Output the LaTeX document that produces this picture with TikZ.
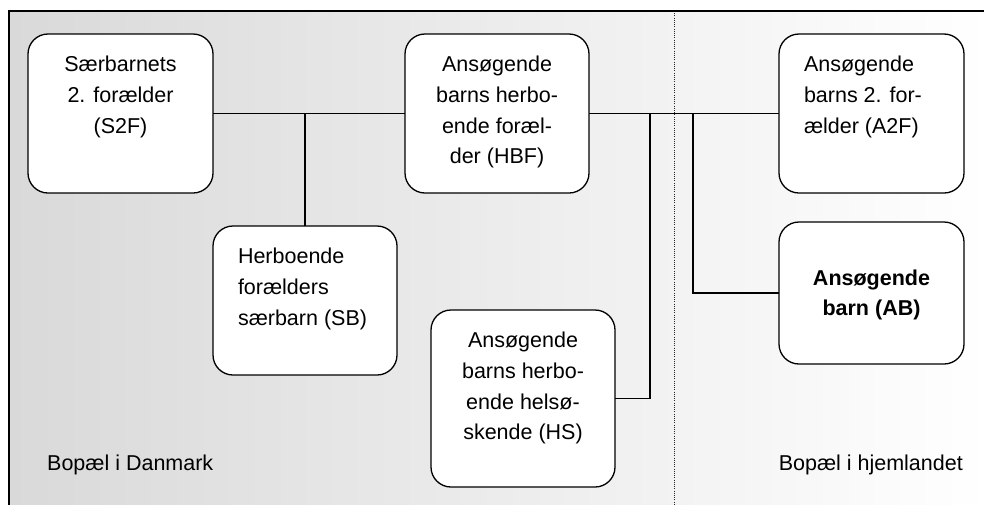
\documentclass[tikz,border=0pt]{standalone}
\usepackage{fontspec}
\setmainfont{Liberation Sans}
\definecolor{bgdark}{HTML}{D9D9D9}
\definecolor{bglight}{HTML}{FFFFFF}
\newcommand{\topbox}[4]{\begin{minipage}[c][#2][t]{#1}\vspace*{22pt}#3#4\end{minipage}}
\newcommand{\midbox}[4]{\begin{minipage}[c][#2][c]{#1}#3#4\end{minipage}}
\begin{document}
\begin{tikzpicture}[x=1pt,y=-1pt,
  box/.style={draw=black, line width=1.3pt, rounded corners=20pt, fill=white, inner sep=0pt, outer sep=0pt,
    font=\fontsize{21.5}{30.8}\selectfont},
  conn/.style={draw=black, line width=1.3pt},
  region/.style={font=\fontsize{21.5}{30.8}\selectfont, inner sep=0pt}]
\useasboundingbox (0,0) rectangle (984,504);
\begin{scope}
\clip (0,0) rectangle (984,504);
\shade[left color=bgdark, right color=bglight] (9,11) rectangle (990,510);
\draw[line width=1pt, black!85, dash pattern=on 1pt off 1.2pt] (674,11) -- (674,510);
\draw[line width=1.3pt] (9,510) -- (9,11) -- (990,11);
\end{scope}

\node[box] (s2f) at (120.5,113.5) {\topbox{185pt}{159pt}{\centering}{Særbarnets\\2. forælder\\(S2F)}};
\node[box] (hbf) at (497,113.5) {\topbox{184pt}{159pt}{\centering}{Ansøgende\\barns herbo-\\ende foræl-\\der (HBF)}};
\node[box] (a2f) at (871.5,113.5) {\topbox{185pt}{159pt}{\raggedright\leftskip=25pt}{Ansøgende\\barns 2. for-\\ælder (A2F)}};
\node[box] (sb) at (305,300.5) {\topbox{184pt}{149pt}{\raggedright\leftskip=25pt}{Herboende\\forælders\\særbarn (SB)}};
\node[box] (hs) at (523,398.5) {\topbox{184pt}{177pt}{\centering}{Ansøgende\\barns herbo-\\ende helsø-\\skende (HS)}};
\node[box] (ab) at (871.5,293) {\midbox{185pt}{142pt}{\centering\bfseries}{\vspace*{4pt}Ansøgende\\barn (AB)}};

\coordinate (j1) at (305,113.5);
\coordinate (j2) at (650,113.5);
\coordinate (j3) at (693,113.5);
\draw[conn] (s2f.east) -- (hbf.west);
\draw[conn] (sb.north) -- (j1);
\draw[conn] (hbf.east) -- (a2f.west);
\draw[conn] (hs.east) -| (j2);
\draw[conn] (ab.west) -| (j3);

\node[region, anchor=base west] (dk) at (47,470.5) {Bopæl i Danmark};
\node[region, anchor=base east] (hj) at (963,470.5) {Bopæl i hjemlandet};
\end{tikzpicture}
\end{document}
